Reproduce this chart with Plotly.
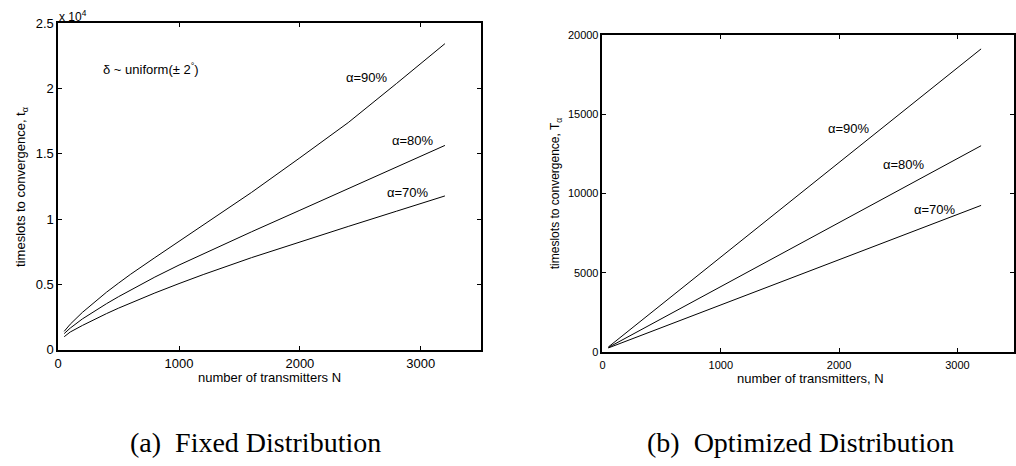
import plotly.graph_objects as go

# ---------------- data ----------------
# (a) Fixed distribution
n_fixed = [50, 100, 200, 300, 400, 500, 600, 800, 1000, 1200, 1600, 2000, 2400, 2800, 3200]
fixed_90 = [1400, 1950, 2850, 3650, 4400, 5100, 5780, 7050, 8300, 9550, 12050, 14700, 17400, 20400, 23450]
fixed_80 = [1230, 1650, 2350, 2950, 3520, 4060, 4580, 5560, 6480, 7350, 9030, 10680, 12320, 13980, 15650]
fixed_70 = [990, 1350, 1850, 2320, 2760, 3180, 3580, 4340, 5060, 5750, 7050, 8260, 9440, 10610, 11780]

# (b) Optimized distribution
n_opt = [50, 400, 800, 1200, 1600, 2000, 2400, 2800, 3200]
opt_90 = [330, 2420, 4800, 7180, 9570, 11950, 14340, 16720, 19110]
opt_80 = [300, 1710, 3330, 4940, 6560, 8170, 9780, 11400, 13010]
opt_70 = [270, 1270, 2410, 3550, 4690, 5830, 6970, 8110, 9250]

fixed_yticks = [0, 5000, 10000, 15000, 20000, 25000]
fixed_yticktext = ["0", "0.5", "1", "1.5", "2", "2.5"]
xticks = [0, 1000, 2000, 3000]
xticktext = ["0", "1000", "2000", "3000"]
opt_yticks = [0, 5000, 10000, 15000, 20000]
opt_yticktext = ["0", "5000", "10000", "15000", "20000"]

W, H = 1016, 466
FONT = "Liberation Sans, Arial, sans-serif"

fig = go.Figure()
line = dict(color="black", width=1)
for ys in (fixed_90, fixed_80, fixed_70):
    fig.add_trace(go.Scatter(x=n_fixed, y=ys, mode="lines", line=line,
                             xaxis="x", yaxis="y", showlegend=False, hoverinfo="skip"))
for ys in (opt_90, opt_80, opt_70):
    fig.add_trace(go.Scatter(x=n_opt, y=ys, mode="lines", line=line,
                             xaxis="x2", yaxis="y2", showlegend=False, hoverinfo="skip"))

def px_x(p):
    return p / W

def px_y(p):
    return (H - p) / H

axis_common = dict(showgrid=False, zeroline=False, showline=True, linecolor="black",
                   linewidth=1.5, mirror="allticks", ticks="inside", ticklen=4,
                   tickcolor="black", tickwidth=1)

fig.update_layout(
    width=W, height=H,
    margin=dict(l=0, r=0, t=0, b=0),
    paper_bgcolor="white", plot_bgcolor="white",
    font=dict(family=FONT, color="black"),
    xaxis=dict(domain=[px_x(54.5), px_x(480)], range=[0, 3500], tickvals=xticks,
               ticktext=xticktext, tickfont=dict(size=13), anchor="y",
               ticklabelstandoff=1, **axis_common),
    yaxis=dict(domain=[px_y(354), px_y(17)], range=[0, 25000], tickvals=fixed_yticks,
               ticktext=fixed_yticktext, tickfont=dict(size=13), anchor="x", **axis_common),
    xaxis2=dict(domain=[px_x(602), 1.0], range=[0, 3478], tickvals=xticks,
                ticktext=xticktext, tickfont=dict(size=11), anchor="y2",
                ticklabelstandoff=2, **axis_common),
    yaxis2=dict(domain=[px_y(356.7), px_y(28.7)], range=[0, 20000], tickvals=opt_yticks,
                ticktext=opt_yticktext, tickfont=dict(size=11), anchor="x2", **axis_common),
)

ann = []
def text_data(xref, yref, x, y, t, size=13):
    ann.append(dict(x=x, y=y, xref=xref, yref=yref, text=t, showarrow=False,
                    font=dict(size=size, family=FONT), xanchor="center", yanchor="middle"))

def text_paper(px, py, t, size=13, angle=0, xanchor="center"):
    ann.append(dict(x=px_x(px), y=px_y(py), xref="paper", yref="paper", text=t,
                    showarrow=False, textangle=angle, xanchor=xanchor, yanchor="middle",
                    borderpad=0, font=dict(size=size, family=FONT)))

# left panel labels
text_data("x", "y", 770, 21480, "δ ~ uniform(± 2<sup>°</sup>)", 13)
text_data("x", "y", 2555, 20840, "α=90%", 13)
text_data("x", "y", 2934, 16020, "α=80%", 13)
text_data("x", "y", 2897, 12020, "α=70%", 13)
# right panel labels
text_data("x2", "y2", 2080, 14085, "α=90%", 13)
text_data("x2", "y2", 2550, 11810, "α=80%", 13)
text_data("x2", "y2", 2811, 8988, "α=70%", 13)

# exponent
text_paper(54, 9, "x 10<sup>4</sup>", 12, xanchor="left")
# axis titles
text_paper(17, 186, "timeslots to convergence, t<sub>α</sub>", 13, angle=-90)
text_paper(267.5, 383, "number of transmitters N", 13)
text_paper(556, 192.7, "timeslots to convergence, T<sub>α</sub>", 12, angle=-90)
text_paper(811, 384, "number of transmitters, N", 13)

# captions
for px, t in ((252.5, "(a)  Fixed Distribution"), (801, "(b)  Optimized Distribution")):
    ann.append(dict(x=px_x(px), y=px_y(450), xref="paper", yref="paper", text=t,
                    showarrow=False, xanchor="center", yanchor="middle",
                    font=dict(size=28, family="Liberation Serif, Times New Roman, serif")))

fig.update_layout(annotations=ann)
fig.write_html("out.html")
